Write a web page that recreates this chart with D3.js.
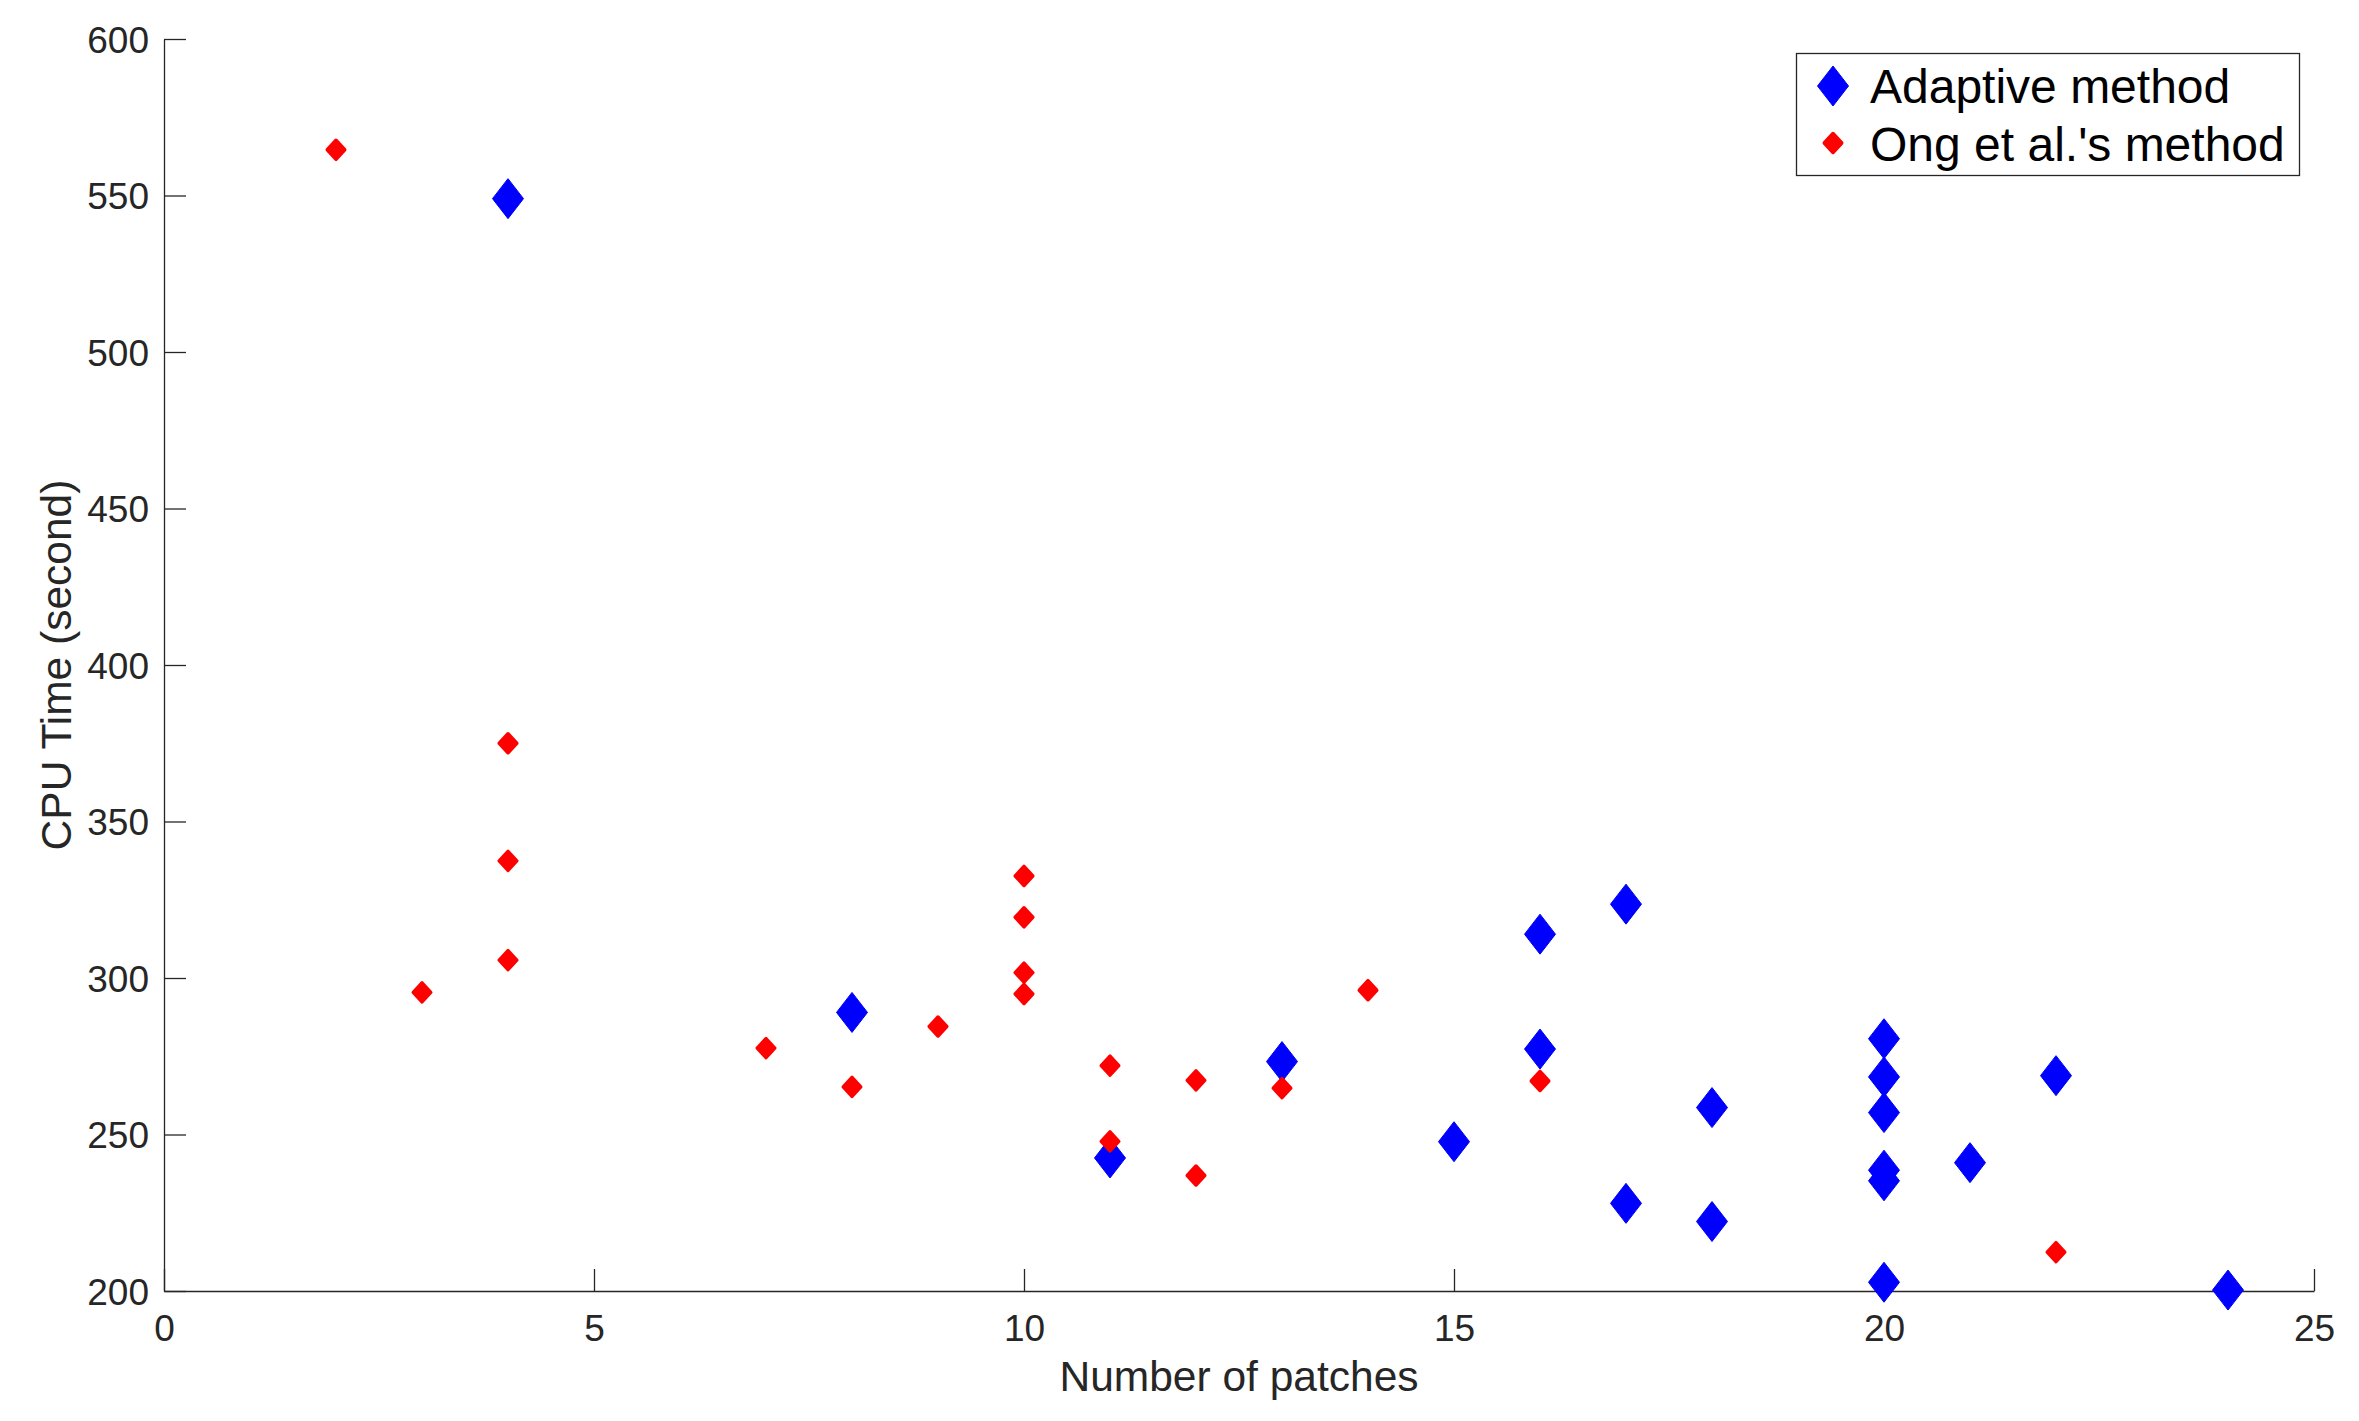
<!DOCTYPE html>
<html>
<head>
<meta charset="utf-8">
<script src="https://cdn.jsdelivr.net/npm/d3@7"></script>
<style>
  body { margin: 0; background: #fff; }
  svg { display: block; font-family: "Liberation Sans", Arial, Helvetica, sans-serif; }
</style>
</head>
<body>
<script>
// data
var adaptiveX = [4, 8, 11, 13, 15, 16, 16, 17, 17, 18, 18, 20, 20, 20, 20, 20, 20, 21, 22, 24];
var adaptiveY = [549, 289, 242.5, 273.3, 247.7, 314, 277.3, 323.6, 228, 258.6, 222.2, 280.6, 268.4, 257, 238.6, 235.2, 202.8, 241, 268.8, 200.3];

var ongX = [2, 3, 4, 4, 4, 7, 8, 9, 10, 10, 10, 10, 11, 11, 12, 12, 13, 14, 16, 22];
var ongY = [564.6, 295.4, 375, 337.4, 305.7, 277.6, 265.2, 284.5, 332.6, 319.4, 301.7, 294.9, 272, 247.8, 267.3, 236.9, 264.8, 296.1, 267.1, 212.4];

var xTicks = [0, 5, 10, 15, 20, 25];
var yTicks = [200, 250, 300, 350, 400, 450, 500, 550, 600];

var seriesNames = ["Adaptive method", "Ong et al.'s method"];

var outerWidth = 2359,
  outerHeight = 1421,
  plotLeft = 164, plotRight = 2314,
  plotTop = 39, plotBottom = 1291,
  axisColor = "#262626";

window.onload = function() {
  var adaptive = makePoints(adaptiveX, adaptiveY)
  var ong = makePoints(ongX, ongY)

  var svg = d3.select("body").append("svg")
      .attr("width", outerWidth)
      .attr("height", outerHeight);

  var xScale = d3.scaleLinear().domain([0, 25]).range([plotLeft, plotRight]);
  var yScale = d3.scaleLinear().domain([200, 600]).range([plotBottom, plotTop]);

  drawAxes(svg, xScale, yScale)
  drawPoints(svg, xScale, yScale, ong, adaptive)
  drawLegend(svg)
};

function makePoints(xs, ys) {
  var out = []
  for (var i = 0; i < xs.length; i++) {
    out.push({x: xs[i], y: ys[i]})
  }
  return out
}

function diamond(w, h) {
  return "M0," + (-h / 2) + "L" + (w / 2) + ",0L0," + (h / 2) + "L" + (-w / 2) + ",0Z"
}

function drawAxes(svg, xScale, yScale) {
  var xAxis = d3.axisBottom(xScale).tickValues(xTicks).tickSizeInner(-22).tickSizeOuter(0).tickPadding(24);
  var yAxis = d3.axisLeft(yScale).tickValues(yTicks).tickSizeInner(-22).tickSizeOuter(0).tickPadding(15);

  var gx = svg.append("g")
      .attr("transform", "translate(0," + plotBottom + ")")
      .call(xAxis);
  var gy = svg.append("g")
      .attr("transform", "translate(" + plotLeft + ",0)")
      .call(yAxis);

  [gx, gy].forEach(function(g) {
    g.select(".domain").attr("stroke", axisColor).attr("stroke-width", 1.3);
    g.selectAll(".tick line").attr("stroke", axisColor).attr("stroke-width", 1.3);
    g.selectAll(".tick text")
      .attr("fill", axisColor)
      .style("font-size", "37px")
      .style("font-family", "'Liberation Sans', Arial, sans-serif");
  });
  gy.selectAll(".tick text").attr("dy", "0.36em");

  svg.append("text")
    .attr("x", (plotLeft + plotRight) / 2)
    .attr("y", 1391)
    .attr("text-anchor", "middle")
    .attr("fill", axisColor)
    .style("font-size", "42.5px")
    .text("Number of patches");

  svg.append("text")
    .attr("transform", "translate(71," + ((plotTop + plotBottom) / 2) + ") rotate(-90)")
    .attr("text-anchor", "middle")
    .attr("fill", axisColor)
    .style("font-size", "42.5px")
    .text("CPU Time (second)");
}

function drawPoints(svg, xScale, yScale, ong, adaptive) {
  svg.append("g").selectAll("path")
    .data(adaptive)
    .enter().append("path")
    .attr("d", diamond(31, 40))
    .attr("transform", function(d) { return "translate(" + xScale(d.x) + "," + yScale(d.y) + ")"; })
    .attr("fill", "#0000ff")
    .attr("stroke", "#0000ff")
    .attr("stroke-width", 1);

  svg.append("g").selectAll("path")
    .data(ong)
    .enter().append("path")
    .attr("d", diamond(17.5, 19))
    .attr("transform", function(d) { return "translate(" + xScale(d.x) + "," + yScale(d.y) + ")"; })
    .attr("fill", "#ff0000")
    .attr("stroke", "#ff0000")
    .attr("stroke-width", 3.5)
    .attr("stroke-linejoin", "round");
}

function drawLegend(svg) {
  var g = svg.append("g");
  g.append("rect")
    .attr("x", 1796.5).attr("y", 53.5)
    .attr("width", 503).attr("height", 122)
    .attr("fill", "#fff")
    .attr("stroke", axisColor)
    .attr("stroke-width", 1.3);

  g.append("path")
    .attr("d", diamond(31, 40))
    .attr("transform", "translate(1833,86)")
    .attr("fill", "#0000ff").attr("stroke", "#0000ff");
  g.append("path")
    .attr("d", diamond(17.5, 19))
    .attr("transform", "translate(1833,143)")
    .attr("fill", "#ff0000").attr("stroke", "#ff0000")
    .attr("stroke-width", 3.5).attr("stroke-linejoin", "round");

  g.selectAll("text.leg")
    .data(seriesNames)
    .enter().append("text")
    .attr("class", "leg")
    .attr("x", 1870)
    .attr("y", function(d, i) { return 103 + i * 58; })
    .attr("fill", "#000")
    .style("font-size", "48px")
    .text(function(d) { return d; });
}
</script>
</body>
</html>
